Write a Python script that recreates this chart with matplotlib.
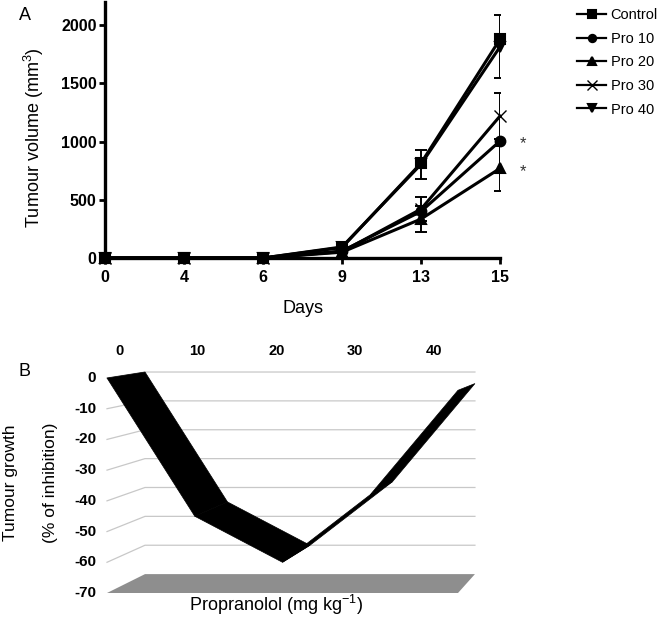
"""
Tumour volume time course (A) and 3D-style inhibition ribbon (B)
"""
import matplotlib.pyplot as plt
from matplotlib.patches import Polygon

plt.rcParams['font.family'] = ['Liberation Sans', 'DejaVu Sans']
plt.rcParams['mathtext.fontset'] = 'custom'
plt.rcParams['mathtext.rm'] = 'Liberation Sans'
plt.rcParams['mathtext.it'] = 'Liberation Sans:italic'
plt.rcParams['mathtext.bf'] = 'Liberation Sans:bold'

# ---- panel A data ----
days = [0, 4, 6, 9, 13, 15]
groups = ["Control", "Pro 10", "Pro 20", "Pro 30", "Pro 40"]
control = [0, 0, 0, 90, 815, 1880]
pro10 = [0, 0, 0, 60, 400, 1005]
pro20 = [0, 0, 0, 50, 335, 770]
pro30 = [0, 0, 0, 55, 420, 1220]
pro40 = [0, 0, 0, 95, 805, 1815]
err_pro20 = [0, 0, 0, 0, 115, 190]
err_pro30 = [0, 0, 0, 0, 105, 200]
err_pro40 = [0, 0, 0, 0, 125, 270]
significant = ["Pro 10", "Pro 20"]

# ---- panel B data ----
doses = [0, 10, 20, 30, 40]
inhibition = [0, -45, -60, -38, -4]
inhib_ticks = [0, -10, -20, -30, -40, -50, -60, -70]

W, H = 664, 629
fig = plt.figure(figsize=(W / 100, H / 100), dpi=100)

# (A) tumour volume
ax_a = fig.add_axes([105 / W, 1 - 258 / H, 395 / W, 256 / H])
series = [control, pro10, pro20, pro30, pro40]
errs = [None, None, err_pro20, err_pro30, err_pro40]
markers = ["s", "o", "^", "x", "v"]
pos = list(range(len(days)))
for name, vals, err, mk in zip(groups, series, errs, markers):
    mew = 1.0 if mk == "x" else 1.5
    ms = 9 if mk == "x" else 7
    ax_a.plot(pos, vals, color="black", lw=2.2, marker=mk, ms=ms, mew=mew,
              label=name, clip_on=False, zorder=3)
    if err is not None:
        idx = [k for k, e in enumerate(err) if e > 0]
        ax_a.errorbar([pos[k] for k in idx], [vals[k] for k in idx],
                      yerr=[err[k] for k in idx], fmt="none", ecolor="black",
                      elinewidth=1.4, capsize=4, capthick=1.4, zorder=2)
    if name in significant:
        ax_a.annotate("*", (pos[-1], vals[-1]), xytext=(14, -2),
                      textcoords="offset points", ha="left", va="center",
                      fontsize=12, color="#333333", annotation_clip=False)

ax_a.set_xlim(0, len(days) - 1)
ax_a.set_ylim(0, 2200)
ax_a.set_xticks(pos, labels=[str(d) for d in days])
ax_a.set_yticks([0, 500, 1000, 1500, 2000])
for side in ["top", "right"]:
    ax_a.spines[side].set_visible(False)
for side in ["left", "bottom"]:
    ax_a.spines[side].set_linewidth(2.4)
ax_a.tick_params(direction="out", length=4, width=2, labelsize=11.5)
ax_a.tick_params(axis="x", pad=5)
ax_a.tick_params(axis="y", pad=2)
for lab in ax_a.get_xticklabels() + ax_a.get_yticklabels():
    lab.set_fontweight("bold")
ax_a.set_xlabel("Days", fontsize=13)
ax_a.set_ylabel("Tumour volume (mm$^3$)", fontsize=13)
ax_a.xaxis.set_label_coords(0.5, -0.165)
ax_a.yaxis.set_label_coords(-0.149, 0.47)
leg = ax_a.legend(loc="upper left", bbox_to_anchor=(577 / W, 1 - 8 / H),
                  bbox_transform=fig.transFigure, frameon=False, fontsize=10.5,
                  handlelength=2.0, handletextpad=0.3, labelspacing=0.66,
                  markerscale=0.75, borderpad=0, borderaxespad=0)
for h in leg.legend_handles:
    h.set_linewidth(1.6)
fig.text(25 / W, 1 - 15 / H, "A", fontsize=13, ha="center", va="center")

# (B) pseudo-3D ribbon chart
S_BACK = 0.94              # perspective shrink of back plane
DX_BACK, DY_BACK = 0.433, 1.95


def proj(i, v, d):
    s = 1 - (1 - S_BACK) * d
    return i * s + DX_BACK * d, v * s + DY_BACK * d


ax_b = fig.add_axes([107 / W, 1 - 593 / H, 351 / W, 215 / H])
ax_b.set_xlim(0, len(doses) - 1)
ax_b.set_ylim(inhib_ticks[-1], inhib_ticks[0])
ax_b.axis("off")
n = len(doses)
vmin = inhib_ticks[-1]

for v in inhib_ticks[:-1]:
    x0, y0 = proj(0, v, 0)
    x1, y1 = proj(0, v, 1)
    x2, y2 = proj(n - 1, v, 1)
    ax_b.plot([x0, x1, x2], [y0, y1, y2], color="#c8c8c8", lw=0.9,
              clip_on=False, zorder=1)

floor = [proj(0, vmin, 0), proj(n - 1, vmin, 0), proj(n - 1, vmin, 1),
         proj(0, vmin, 1)]
ax_b.add_patch(Polygon(floor, closed=True, facecolor="#8e8e8e",
                       edgecolor="none", clip_on=False, zorder=2))

for k in range(n - 1):
    quad = [proj(k, inhibition[k], 0), proj(k + 1, inhibition[k + 1], 0),
            proj(k + 1, inhibition[k + 1], 1), proj(k, inhibition[k], 1)]
    ax_b.add_patch(Polygon(quad, closed=True, facecolor="black",
                           edgecolor="black", lw=0.5, clip_on=False, zorder=3))

for v in inhib_ticks:
    ax_b.text(-0.125, v, str(v), ha="right", va="center", fontsize=11,
              fontweight="bold")
for k, d in enumerate(doses):
    ax_b.text(0.137 + 0.896 * k, 8.8, str(d), ha="center", va="center",
              fontsize=10.5, fontweight="bold")

fig.text(276 / W, 1 - 605 / H, "Propranolol (mg kg$^{-1}$)", fontsize=13,
         ha="center", va="center")
fig.text(11 / W, 1 - 483 / H, "Tumour growth", fontsize=12.5, rotation=90,
         ha="center", va="center")
fig.text(51 / W, 1 - 483 / H, "(% of inhibition)", fontsize=12.5, rotation=90,
         ha="center", va="center")
fig.text(24 / W, 1 - 371 / H, "B", fontsize=13, ha="center", va="center")

fig.savefig("out.png", dpi=100)
plt.close(fig)
